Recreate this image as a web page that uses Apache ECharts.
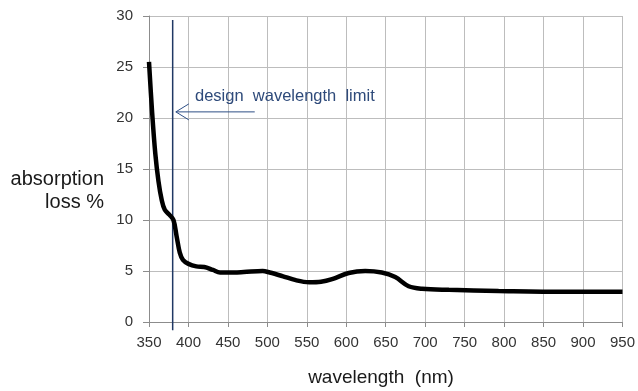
<!DOCTYPE html>
<html>
<head>
<meta charset="utf-8">
<script src="https://cdn.jsdelivr.net/npm/echarts@6/dist/echarts.min.js"></script>
<style>
  html, body { margin: 0; padding: 0; background: #fff; }
  #chart { width: 638px; height: 391px; }
</style>
</head>
<body>
<div id="chart"></div>
<script>
// absorption curve
const wavelengths = [350, 354, 358, 362, 366, 370, 376, 381, 385, 389, 393, 400, 410, 420, 431, 440, 450, 470, 494, 503, 519, 536, 553, 568, 582, 603, 624, 645, 662, 679, 696, 730, 793, 877, 950];
const lossValues  = [25.5, 20.5, 16.5, 13.8, 12.0, 11.0, 10.5, 10.0, 8.4, 6.8, 6.1, 5.7, 5.45, 5.4, 5.1, 4.85, 4.85, 4.9, 5.0, 4.85, 4.5, 4.1, 3.9, 3.95, 4.2, 4.8, 5.0, 4.85, 4.4, 3.5, 3.25, 3.15, 3.05, 2.97, 2.97];

// design wavelength limit
const limitWavelength = 380;
const limitSpan = [29.6, -0.8];
const arrowFrom = [484, 20.6];
const arrowTo = [384, 20.6];

const xTicks = { min: 350, max: 950, interval: 50 };
const yTicks = { min: 0, max: 30, interval: 5 };

const curve = wavelengths.map((w, i) => [w, lossValues[i]]);

const chart = echarts.init(document.getElementById('chart'));

const tickFont = { fontFamily: 'Liberation Sans, Arial, sans-serif', fontSize: 15, color: '#333' };

chart.setOption({
  animation: false,
  grid: { left: 149, right: 13, top: 16, bottom: 69 },
  xAxis: {
    type: 'value',
    min: xTicks.min, max: xTicks.max, interval: xTicks.interval,
    axisLine: { lineStyle: { color: '#8c8c8c', width: 1 } },
    axisTick: { show: true, length: 5, lineStyle: { color: '#8c8c8c' } },
    splitLine: { lineStyle: { color: '#bdbdbd', width: 1 } },
    axisLabel: Object.assign({ margin: 13 }, tickFont)
  },
  yAxis: {
    type: 'value',
    min: yTicks.min, max: yTicks.max, interval: yTicks.interval,
    axisLine: { show: true, lineStyle: { color: '#8c8c8c', width: 1 } },
    axisTick: { show: true, length: 6, lineStyle: { color: '#8c8c8c' } },
    splitLine: { lineStyle: { color: '#bdbdbd', width: 1 } },
    axisLabel: Object.assign({ margin: 16 }, tickFont)
  },
  series: [
    {
      type: 'line',
      data: [[limitWavelength, limitSpan[0]], [limitWavelength, limitSpan[1]]],
      clip: false,
      symbol: 'none',
      lineStyle: { color: '#1f3864', width: 1.5 },
      z: 3
    },
    {
      type: 'line',
      data: curve,
      smooth: 0.35,
      symbol: 'none',
      lineStyle: { color: '#000', width: 4.5 },
      z: 4
    },
    {
      type: 'line',
      data: [arrowFrom, arrowTo],
      symbol: 'none',
      lineStyle: { color: '#2e4f86', width: 1 },
      z: 3
    }
  ]
});

// arrow head and labels positioned from data coordinates
const tip = chart.convertToPixel({ gridIndex: 0 }, arrowTo);

chart.setOption({
  graphic: [
    {
      type: 'polyline',
      shape: { points: [[tip[0] + 13, tip[1] - 8], [tip[0], tip[1]], [tip[0] + 13, tip[1] + 8]] },
      style: { stroke: '#2e4f86', lineWidth: 1, fill: null },
      z: 10
    },
    {
      type: 'text',
      x: 195,
      y: 96,
      style: {
        text: 'design  wavelength  limit',
        font: '16.5px "Liberation Sans", Arial, sans-serif',
        fill: '#2e4a7a',
        verticalAlign: 'middle'
      },
      z: 10
    },
    {
      type: 'text',
      x: 104,
      y: 179,
      style: {
        text: 'absorption',
        font: '20px "Liberation Sans", Arial, sans-serif',
        fill: '#1a1a1a',
        align: 'right',
        verticalAlign: 'middle'
      }
    },
    {
      type: 'text',
      x: 104,
      y: 202,
      style: {
        text: 'loss %',
        font: '20px "Liberation Sans", Arial, sans-serif',
        fill: '#1a1a1a',
        align: 'right',
        verticalAlign: 'middle'
      }
    },
    {
      type: 'text',
      x: 381,
      y: 378,
      style: {
        text: 'wavelength  (nm)',
        font: '19px "Liberation Sans", Arial, sans-serif',
        fill: '#1a1a1a',
        align: 'center',
        verticalAlign: 'middle'
      }
    }
  ]
});
</script>
</body>
</html>
